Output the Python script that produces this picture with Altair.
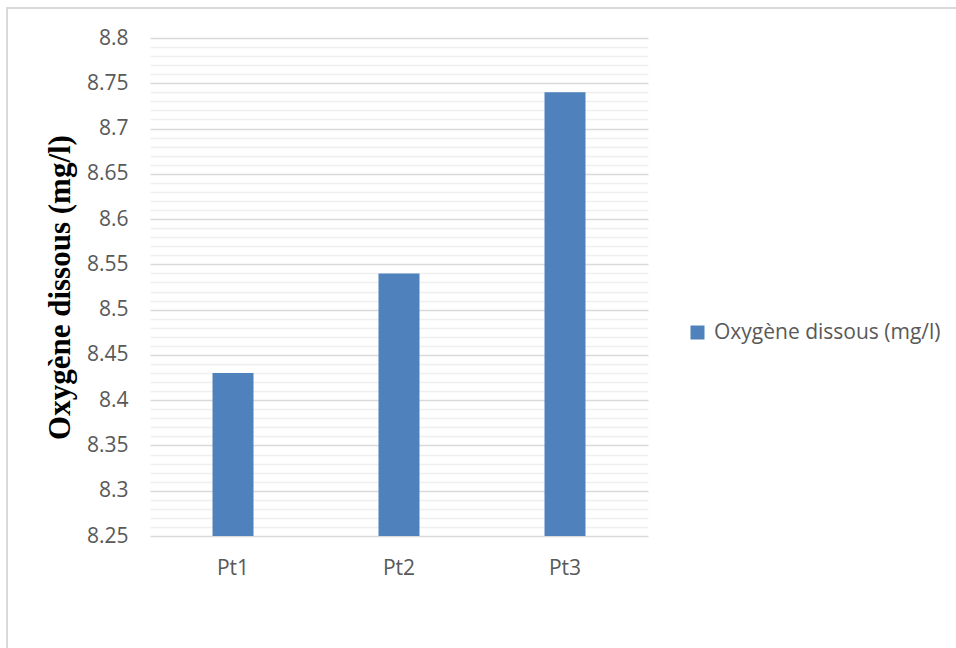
import altair as alt
import pandas as pd

# Dissolved oxygen measured at each sampling point
points = ["Pt1", "Pt2", "Pt3"]
oxygen = [8.43, 8.54, 8.74]
series_name = "Oxygène dissous (mg/l)"

major_ticks = [8.25, 8.3, 8.35, 8.4, 8.45, 8.5, 8.55, 8.6, 8.65, 8.7, 8.75, 8.8]
minor_ticks = [round(8.25 + i * 0.01, 2) for i in range(56) if i % 5 != 0]

df = pd.DataFrame({"point": points, "value": oxygen, "series": series_name})

label_font = "Open Sans"
label_size = 21
y_scale = alt.Scale(domain=[8.25, 8.8], zero=False, nice=False)
x_scale = alt.Scale(paddingInner=0, paddingOuter=0)

# light minor grid every 0.01
minor = alt.Chart(df).mark_tick(opacity=0).encode(
    y=alt.Y("value:Q", scale=y_scale,
            axis=alt.Axis(orient="left", values=minor_ticks, grid=True,
                          gridColor="#efefef", gridWidth=1.5, labels=False,
                          ticks=False, domain=False, title=None)),
)

bars = alt.Chart(df).mark_bar(size=41).encode(
    x=alt.X("point:N", scale=x_scale, sort=points,
            axis=alt.Axis(title=None, labelAngle=0, ticks=False, domain=False,
                          labelFont=label_font, labelFontSize=label_size,
                          labelColor="#595959", labelPadding=21)),
    y=alt.Y("value:Q", scale=y_scale,
            axis=alt.Axis(orient="left", values=major_ticks, format="~g",
                          grid=True, gridColor="#d9d9d9", gridWidth=1.5,
                          ticks=False, domain=False, labelFont=label_font,
                          labelFontSize=label_size, labelColor="#595959",
                          labelPadding=22, title=series_name,
                          titleFont="Liberation Serif", titleFontWeight="bold",
                          titleFontSize=31, titleColor="#000000",
                          titlePadding=10)),
    y2=alt.datum(8.25),
    color=alt.Color("series:N", scale=alt.Scale(range=["#4f81bd"]),
                    legend=alt.Legend(title=None, orient="none", legendX=537,
                                      legendY=284, symbolType="square",
                                      symbolSize=196, symbolStrokeWidth=0,
                                      labelFont=label_font,
                                      labelFontSize=label_size,
                                      labelColor="#595959", labelOffset=6,
                                      labelLimit=0)),
)

# outer frame of the chart
frame = alt.Chart(df).mark_rect(fill=None, stroke="#d9d9d9", strokeWidth=2,
                                clip=False).encode(
    x=alt.value(-143), x2=alt.value(900), y=alt.value(-30), y2=alt.value(700)
)

chart = alt.layer(minor, bars, frame).resolve_scale(
    y="shared"
).resolve_axis(y="independent").properties(
    width=498, height=498,
    background="white",
    padding={"left": 150, "top": 38, "right": 308, "bottom": 112},
    autosize=alt.AutoSizeParams(type="none"),
).configure_view(stroke="transparent", strokeWidth=0)

chart.save("out.html", embed_options={"renderer": "svg", "actions": False})
